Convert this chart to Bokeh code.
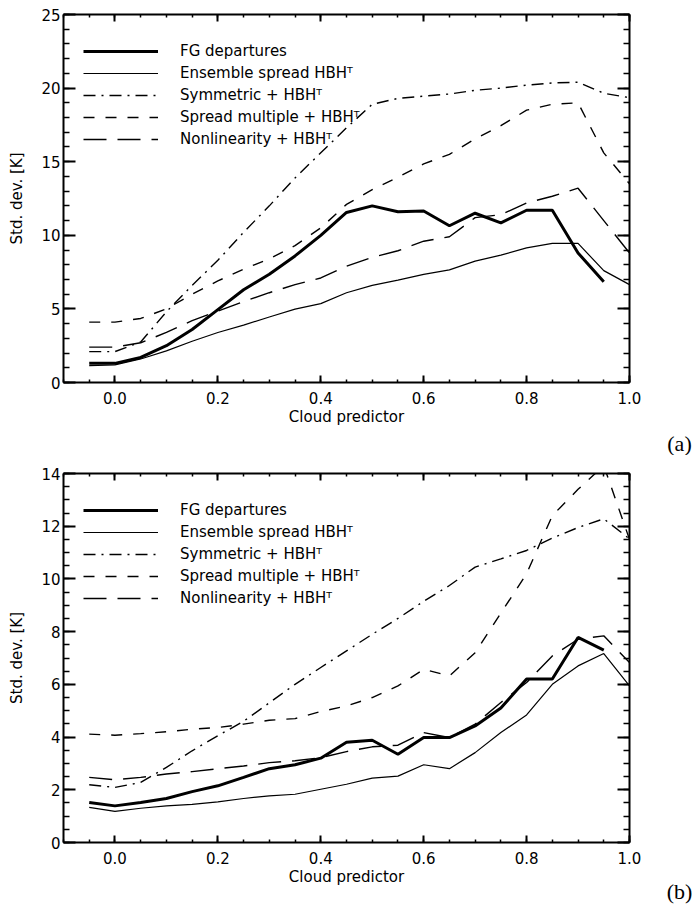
from bokeh.plotting import figure
from bokeh.layouts import column
from bokeh.models import (LinearAxis, FixedTicker, Legend, LegendItem, Label,
                          PrintfTickFormatter)
from bokeh.embed import file_html
from bokeh.resources import INLINE

# Cloud predictor bins
x = [-0.05, 0.0, 0.05, 0.1, 0.15, 0.2, 0.25, 0.3, 0.35, 0.4, 0.45,
     0.5, 0.55, 0.6, 0.65, 0.7, 0.75, 0.8, 0.85, 0.9, 0.95, 1.0]
x_fg = x[:-1]

# Panel (a): standard deviations [K]
fg_a = [1.3, 1.3, 1.7, 2.5, 3.6, 4.95, 6.3, 7.35, 8.6, 10.0, 11.55,
        12.0, 11.6, 11.65, 10.65, 11.5, 10.85, 11.7, 11.7, 8.8, 6.85]
ens_a = [1.15, 1.2, 1.6, 2.15, 2.8, 3.4, 3.9, 4.45, 4.98, 5.36, 6.1,
         6.6, 6.95, 7.35, 7.65, 8.25, 8.65, 9.15, 9.45, 9.45, 7.6, 6.65]
sym_a = [2.1, 2.1, 2.75, 4.8, 6.6, 8.3, 10.2, 12.0, 13.9, 15.6, 17.3,
         18.9, 19.3, 19.45, 19.6, 19.85, 20.0, 20.2, 20.35, 20.4, 19.65, 19.35]
spr_a = [4.1, 4.1, 4.35, 5.0, 6.0, 6.9, 7.7, 8.4, 9.3, 10.5, 12.1,
         13.1, 13.95, 14.85, 15.5, 16.55, 17.45, 18.5, 18.9, 19.0, 15.6, 13.5]
nl_a = [2.4, 2.4, 2.7, 3.4, 4.2, 4.85, 5.5, 6.1, 6.65, 7.1, 7.9,
        8.5, 8.95, 9.6, 9.9, 11.2, 11.4, 12.2, 12.65, 13.2, 11.0, 8.8]

# Panel (b)
fg_b = [1.52, 1.39, 1.52, 1.67, 1.93, 2.15, 2.47, 2.8, 2.95, 3.2, 3.8,
        3.88, 3.35, 3.98, 3.98, 4.42, 5.1, 6.2, 6.2, 7.78, 7.3]
ens_b = [1.33, 1.18, 1.3, 1.39, 1.45, 1.54, 1.67, 1.77, 1.83, 2.02, 2.21,
         2.44, 2.52, 2.95, 2.8, 3.41, 4.17, 4.84, 6.0, 6.7, 7.17, 5.94]
sym_b = [2.19, 2.09, 2.28, 2.85, 3.48, 4.05, 4.6, 5.3, 6.0, 6.64, 7.27,
         7.9, 8.5, 9.15, 9.75, 10.45, 10.76, 11.08, 11.55, 11.95, 12.28, 11.52]
spr_b = [4.11, 4.07, 4.13, 4.2, 4.3, 4.36, 4.49, 4.64, 4.7, 4.97, 5.18,
         5.5, 5.94, 6.57, 6.32, 7.2, 8.7, 10.2, 12.4, 13.4, 14.3, 11.5]
nl_b = [2.47, 2.38, 2.47, 2.6, 2.69, 2.8, 2.9, 3.03, 3.1, 3.22, 3.45,
        3.63, 3.69, 4.17, 3.98, 4.49, 5.31, 6.07, 7.08, 7.71, 7.84, 6.83]

labels = ["FG departures", "Ensemble spread HBH\u1d40", "Symmetric + HBH\u1d40",
          "Spread multiple + HBH\u1d40", "Nonlinearity + HBH\u1d40"]

x_major = [0.0, 0.2, 0.4, 0.6, 0.8, 1.0]
x_minor = [round(-0.1 + 0.05 * i, 2) for i in range(23)]

FONT = "DejaVu Sans"
FS = "15px"


def style_axis(ax, major, minor, show_labels, tick_in):
    ax.ticker = FixedTicker(ticks=major, minor_ticks=minor)
    ax.axis_line_width = 2
    ax.axis_line_color = "black"
    ax.major_tick_line_width = 2
    ax.minor_tick_line_width = 1.5
    ax.major_tick_out = 0
    ax.minor_tick_out = 0
    ax.major_tick_in = tick_in
    ax.minor_tick_in = tick_in // 2
    ax.major_label_text_font = FONT
    ax.major_label_text_color = "black"
    if show_labels:
        ax.major_label_text_font_size = FS
    else:
        # mirrored axis: ticks only
        ax.major_label_overrides = {t: "" for t in major}
        ax.major_label_text_font_size = "1px"
        ax.major_label_standoff = 0
    ax.axis_label_text_font = FONT
    ax.axis_label_text_font_size = FS
    ax.axis_label_text_font_style = "normal"
    ax.axis_label_text_color = "black"


def panel(series, y_end, y_major, y_minor, height, top, bottom, tag, tag_y):
    p = figure(width=697, height=height, x_range=(-0.1, 1.0), y_range=(0, y_end),
               output_backend="svg", toolbar_location=None,
               min_border_left=63, min_border_right=68,
               min_border_top=top, min_border_bottom=bottom)
    p.xgrid.visible = False
    p.ygrid.visible = False
    p.outline_line_color = None
    p.background_fill_color = "white"

    fg, ens, sym, spr, nl = series
    r1 = p.line(x_fg, fg, line_color="black", line_width=3)
    r2 = p.line(x, ens, line_color="black", line_width=1.2)
    r3 = p.line(x, sym, line_color="black", line_width=1.4, line_dash="12 6 2 6")
    r4 = p.line(x, spr, line_color="black", line_width=1.4, line_dash="11 11")
    r5 = p.line(x, nl, line_color="black", line_width=1.4, line_dash="23 11")

    # bottom / left axes carry labels; top / right mirror the ticks
    style_axis(p.xaxis[0], x_major, x_minor, True, 7)
    p.xaxis[0].formatter = PrintfTickFormatter(format="%.1f")
    p.xaxis[0].major_label_standoff = 9
    p.xaxis[0].axis_label = "Cloud predictor"
    p.xaxis[0].axis_label_standoff = 1
    style_axis(p.yaxis[0], y_major, y_minor, True, 12)
    p.yaxis[0].major_label_standoff = 3
    p.yaxis[0].axis_label = "Std. dev. [K]"
    p.yaxis[0].axis_label_standoff = 12

    top_ax = LinearAxis()
    style_axis(top_ax, x_major, x_minor, False, 7)
    p.add_layout(top_ax, "above")
    right_ax = LinearAxis()
    style_axis(right_ax, y_major, y_minor, False, 12)
    p.add_layout(right_ax, "right")

    items = [LegendItem(label=t, renderers=[r]) for t, r in
             zip(labels, [r1, r2, r3, r4, r5])]
    frame_h = height - top - bottom
    leg = Legend(items=items, location=(20, frame_h - 24 - 112),
                 margin=0, padding=0, spacing=0, glyph_width=75,
                 glyph_height=22, label_height=22, label_standoff=22,
                 label_text_font=FONT, label_text_font_size=FS,
                 label_text_color="black",
                 border_line_alpha=0, background_fill_alpha=0)
    p.add_layout(leg)

    # panel tag, kept in the right border so the frame does not clip it
    p.add_layout(Label(x=679, y=tag_y, x_units="canvas", y_units="canvas",
                       text=tag, text_font="Liberation Serif",
                       text_font_size="22px", text_align="center",
                       text_baseline="middle", text_color="black"), "right")
    return p


pa = panel([fg_a, ens_a, sym_a, spr_a, nl_a], 25, [0, 5, 10, 15, 20, 25],
           list(range(0, 26)), 455, 14, 73, "(a)", 443)
pb = panel([fg_b, ens_b, sym_b, spr_b, nl_b], 14, list(range(0, 15, 2)),
           [i * 0.5 for i in range(29)], 452, 18, 65, "(b)", 436)

layout = column(pa, pb, spacing=0)
open("out.html", "w").write(file_html(layout, INLINE))
